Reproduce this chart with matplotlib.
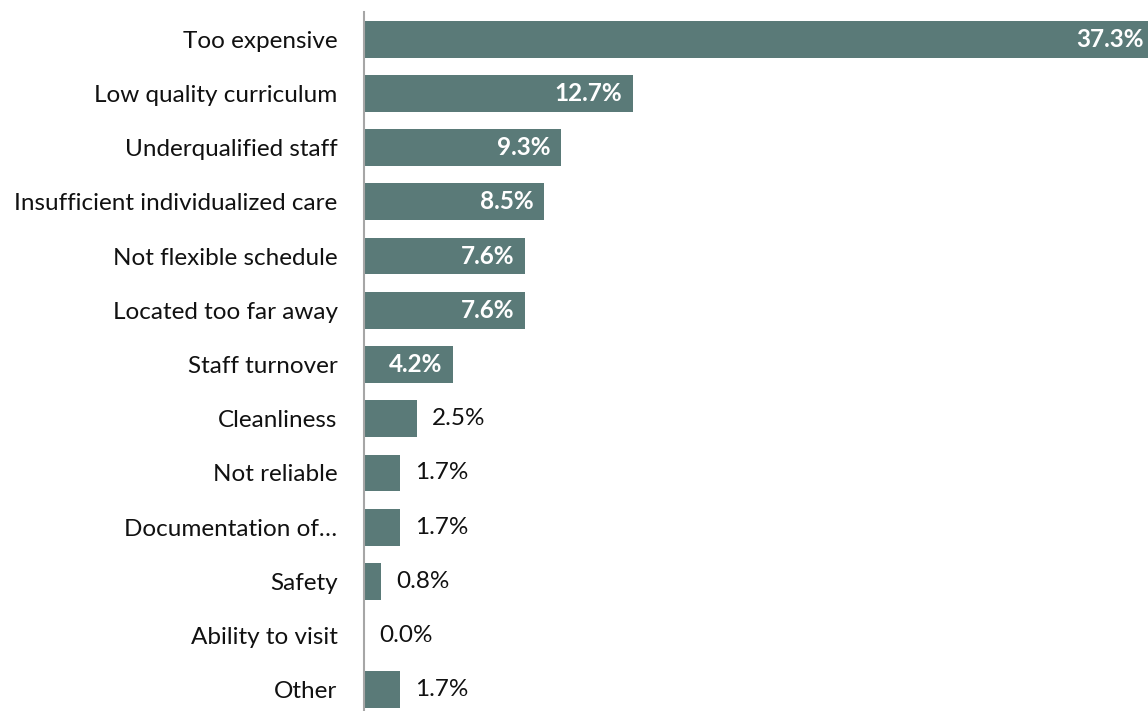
import matplotlib
matplotlib.use("Agg")
import matplotlib.pyplot as plt
from matplotlib import transforms

plt.rcParams['font.family'] = ['Lato', 'DejaVu Sans']

reasons = [
    "Too expensive",
    "Low quality curriculum",
    "Underqualified staff",
    "Insufficient individualized care",
    "Not flexible schedule",
    "Located too far away",
    "Staff turnover",
    "Cleanliness",
    "Not reliable",
    "Documentation of\u2026",
    "Safety",
    "Ability to visit",
    "Other",
]
shares = [37.3, 12.7, 9.3, 8.5, 7.6, 7.6, 4.2, 2.5, 1.7, 1.7, 0.8, 0.0, 1.7]

bar_color = "#5a7a78"
inside_cutoff = 4.0
fs = 17.5

fig = plt.figure(figsize=(11.48, 7.11), dpi=100)
ax = fig.add_axes([364 / 1148, 0, 1 - 364 / 1148, 1 - 12 / 711])

pos = list(range(len(reasons)))
ax.barh(pos, shares, height=0.68, color=bar_color, clip_on=True)

ax.set_xlim(0, 784 / 21.2)
ax.set_ylim(12.39, -0.5)

ax.set_yticks(pos)
ax.set_yticklabels(reasons, fontsize=fs, color="#111111")
ax.tick_params(axis="y", length=0, pad=19)
ax.set_xticks([])

for side in ("top", "right", "bottom"):
    ax.spines[side].set_visible(False)
ax.spines["left"].set_color("#a6a6a6")
ax.spines["left"].set_linewidth(1.5)

for y, v in zip(pos, shares):
    txt = f"{v:.1f}%"
    if v >= inside_cutoff:
        off = transforms.offset_copy(ax.transData, fig=fig, x=-11, y=0, units="dots")
        ax.text(v, y, txt, transform=off, ha="right", va="center",
                fontsize=fs, fontweight="bold", color="white", clip_on=False)
    else:
        off = transforms.offset_copy(ax.transData, fig=fig, x=15, y=0, units="dots")
        ax.text(v, y, txt, transform=off, ha="left", va="center",
                fontsize=fs, color="#111111")

fig.savefig("out.png", dpi=100)
